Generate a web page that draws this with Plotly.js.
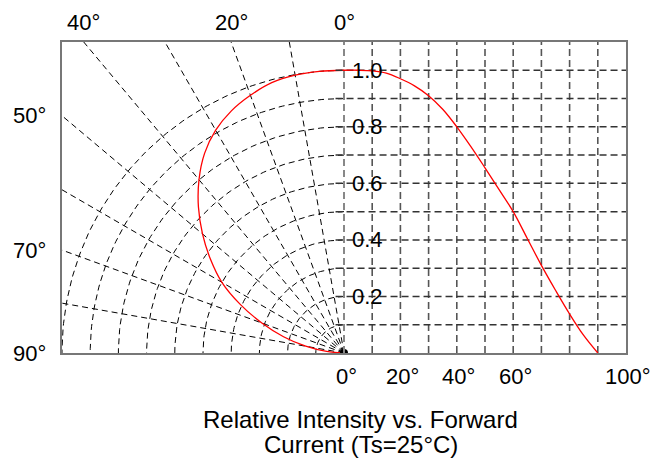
<!DOCTYPE html>
<html><head><meta charset="utf-8">
<script src="https://cdn.plot.ly/plotly-3.0.1.min.js"></script>
<style>html,body{margin:0;padding:0;background:#fff}#chart{width:662px;height:464px}</style>
</head><body><div id="chart"></div>
<script>
// ---- data ----
const angles = [0, 5, 10, 15, 20, 25, 30, 35, 40, 45, 50, 55, 60, 65, 70, 75, 80, 85, 90];
const intensity = [1.0, 1.0, 0.998, 0.99, 0.97, 0.945, 0.91, 0.862, 0.80, 0.73, 0.655, 0.578, 0.50, 0.405, 0.31, 0.222, 0.138, 0.062, 0.0];
const ringRadii = [0.1, 0.2, 0.3, 0.4, 0.5, 0.6, 0.7, 0.8, 0.9, 1.0];
const spokeAngles = [10, 20, 30, 40, 50, 60, 70, 80];
const rectGridX = [10, 20, 30, 40, 50, 60, 70, 80, 90];
const rectGridY = [0.1, 0.2, 0.3, 0.4, 0.5, 0.6, 0.7, 0.8, 0.9, 1.0];
const intensityTickVals = [1.0, 0.8, 0.6, 0.4, 0.2];
const intensityTickText = ['1.0', '0.8', '0.6', '0.4', '0.2'];
const topAngleLabels = [40, 20, 0];
const leftAngleLabels = [50, 70, 90];
const bottomTickVals = [0, 20, 40, 60, 100];
const bottomTickText = ['0°', '20°', '40°', '60°', '100°'];
const titleLines = ['Relative Intensity vs. Forward', 'Current (Ts=25°C)'];

const YTOP = 1.1;
const rad = d => d * Math.PI / 180;
const DASH = '6px,4px';

// polar rings (left half)
const ringX = [], ringY = [];
ringRadii.forEach(r => {
  for (let a = 0; a <= 90; a += 1) { ringX.push(-r * Math.sin(rad(a))); ringY.push(r * Math.cos(rad(a))); }
  ringX.push(null); ringY.push(null);
});
// spokes
const spokeX = [], spokeY = [];
spokeAngles.forEach(a => {
  spokeX.push(0, -2 * Math.sin(rad(a)), null);
  spokeY.push(0, 2 * Math.cos(rad(a)), null);
});
// rectangular grid (right half)
const vX = [], vY = [];
rectGridX.forEach(x => { vX.push(x, x, null); vY.push(0, YTOP, null); });
const hX = [], hY = [];
rectGridY.forEach(y => { hX.push(-3, 100, null); hY.push(y, y, null); });

// polar curve
const polX = angles.map((a, i) => -intensity[i] * Math.sin(rad(a)));
const polY = angles.map((a, i) => intensity[i] * Math.cos(rad(a)));

const traces = [
  {x: ringX, y: ringY, mode: 'lines', line: {color: '#000', width: 1, dash: DASH}, hoverinfo: 'skip'},
  {x: spokeX, y: spokeY, mode: 'lines', line: {color: '#000', width: 1, dash: DASH}, hoverinfo: 'skip'},
  {x: vX, y: vY, xaxis: 'x2', mode: 'lines', line: {color: '#555', width: 1.6, dash: '7px,4px'}, hoverinfo: 'skip'},
  {x: hX, y: hY, xaxis: 'x2', mode: 'lines', line: {color: '#333', width: 1.5, dash: '7px,4px'}, hoverinfo: 'skip'},
  {x: [0, 0], y: [0, YTOP], xaxis: 'x2', mode: 'lines', line: {color: '#888', width: 2, dash: '7px,4px'}, hoverinfo: 'skip'},
  {x: polX, y: polY, mode: 'lines', line: {color: '#ff0000', width: 1.3, shape: 'spline'}},
  {x: angles, y: intensity, xaxis: 'x2', mode: 'lines', line: {color: '#ff0000', width: 1.3, shape: 'spline'}},
  {x: [0], y: [0], mode: 'markers', marker: {color: '#000', size: 8}, hoverinfo: 'skip'}
];

const annotations = [];
intensityTickVals.forEach((v, i) => annotations.push({
  x: 8.3, y: v, xref: 'x2', yref: 'y', text: intensityTickText[i], showarrow: false,
  xanchor: 'center', yanchor: 'middle'
}));
topAngleLabels.forEach(a => annotations.push({
  x: -YTOP * Math.tan(rad(a)), y: YTOP, xref: 'x', yref: 'y', text: a + '°', showarrow: false,
  xanchor: 'center', yanchor: 'middle', yshift: 20
}));
leftAngleLabels.forEach(a => annotations.push({
  x: -1, y: 1 / Math.tan(rad(a)), xref: 'x', yref: 'y', text: a + '°', showarrow: false,
  xanchor: 'right', yanchor: 'middle', xshift: -14
}));
bottomTickVals.forEach((v, i) => annotations.push({
  x: v, y: 0, xref: 'x2', yref: 'y', text: bottomTickText[i], showarrow: false,
  xanchor: 'center', yanchor: 'middle', yshift: -23, xshift: 2
}));
titleLines.forEach((t, i) => annotations.push({
  x: 0.530, y: i === 0 ? -0.2138 : -0.294, xref: 'paper', yref: 'paper', text: t, showarrow: false,
  xanchor: 'center', yanchor: 'middle', font: {size: 24}
}));

const axisCommon = {showgrid: false, zeroline: false, ticks: '', showticklabels: false, fixedrange: true};
const layout = {
  width: 662, height: 464,
  margin: {l: 62, r: 36, t: 42, b: 111},
  paper_bgcolor: '#fff', plot_bgcolor: '#fff',
  showlegend: false,
  font: {family: 'Liberation Sans, Arial, sans-serif', size: 22, color: '#000'},
  xaxis: Object.assign({range: [-1, 1], showline: true, mirror: true, linecolor: '#777', linewidth: 2}, axisCommon),
  xaxis2: Object.assign({range: [-100, 100], overlaying: 'x', visible: false}, axisCommon),
  yaxis: Object.assign({range: [0, YTOP], showline: true, mirror: true, linecolor: '#777', linewidth: 2}, axisCommon),
  annotations: annotations
};

Plotly.newPlot('chart', traces, layout, {displayModeBar: false, staticPlot: true});
</script>
</body></html>
